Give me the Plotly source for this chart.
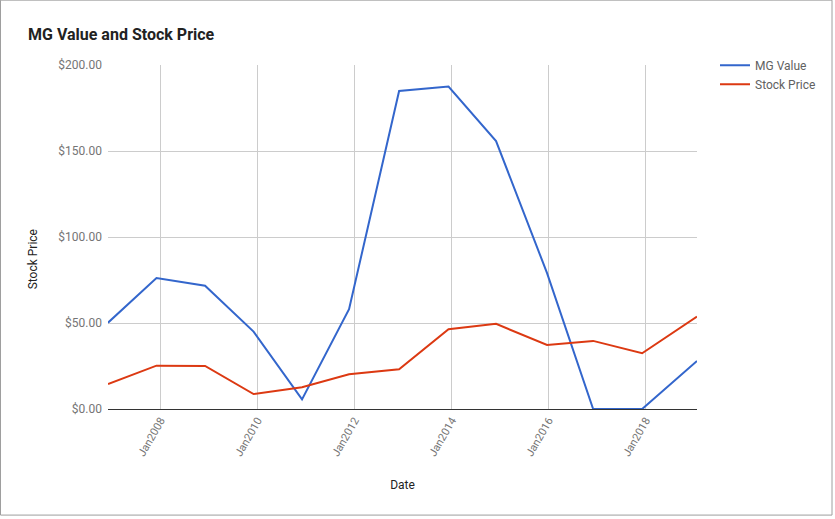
import plotly.graph_objects as go

dates = ["2006-12-01", "2007-12-01", "2008-12-01", "2009-12-01", "2010-12-01",
         "2011-11-20", "2012-12-01", "2013-12-08", "2014-12-01", "2015-12-20",
         "2016-12-01", "2017-12-05", "2019-01-22"]
mg_value = [50.2, 76.1, 71.7, 45.0, 5.6, 58.0, 184.9, 187.5, 155.8, 79.0, 0.0, 0.0, 27.9]
stock_price = [14.5, 25.2, 25.0, 8.7, 12.6, 20.2, 23.1, 46.4, 49.5, 37.2, 39.6, 32.4, 53.7]
y_ticks = [0, 50, 100, 150, 200]
y_tick_labels = ["$0.00", "$50.00", "$100.00", "$150.00", "$200.00"]

W, H = 835, 519
L, R_px, T, B_px = 108, 697, 65.3, 409
fig = go.Figure()
fig.add_trace(go.Scatter(x=dates, y=mg_value, mode="lines", name="MG Value",
                         line=dict(color="#3366cc", width=2)))
fig.add_trace(go.Scatter(x=dates, y=stock_price, mode="lines", name="Stock Price",
                         line=dict(color="#dc3912", width=2)))

pw, ph = R_px - L, B_px - T
def px_x(p):
    return (p - L) / pw
def px_y(p):
    return (B_px - p) / ph

fig.add_shape(type="rect", xref="paper", yref="paper",
              x0=px_x(0.5), x1=px_x(832), y0=px_y(515), y1=px_y(0.5),
              line=dict(color="#9e9e9e", width=1), fillcolor="rgba(0,0,0,0)", layer="below")

fig.add_annotation(text="Stock Price", xref="paper", yref="paper",
                   x=px_x(33), y=px_y(259.5), xanchor="center", yanchor="middle",
                   textangle=-90, showarrow=False,
                   font=dict(size=12, color="#222222"))

fig.update_layout(
    width=W, height=H,
    margin=dict(l=L, r=W - R_px, t=T, b=H - B_px),
    paper_bgcolor="white", plot_bgcolor="white",
    font=dict(family="Roboto, Arial, sans-serif", size=12, color="#222222"),
    title=dict(text="<b>MG Value and Stock Price</b>", x=28 / W, xref="container", xanchor="left",
               y=1 - 34 / H, yref="container", yanchor="middle", font=dict(size=16, color="#222222")),
    showlegend=True,
    legend=dict(x=px_x(715), y=px_y(51), xanchor="left", yanchor="top",
                font=dict(size=12, color="#616161"), itemwidth=30, tracegroupgap=6,
                bgcolor="rgba(0,0,0,0)"),
    hovermode=False,
    xaxis=dict(range=["2006-12-01", "2019-01-22"], type="date",
               tick0="2008-01-01", dtick="M24", tickformat="%b%Y", tickangle=-60,
               showgrid=True, gridcolor="#cccccc", gridwidth=1,
               tickfont=dict(size=11, color="#757575"), ticks="", showline=False,
               zeroline=False, ticklabelstandoff=2,
               title=dict(text="Date", font=dict(size=12, color="#222222"), standoff=22)),
    yaxis=dict(range=[0, 200], tickvals=y_ticks, ticktext=y_tick_labels,
               showgrid=True, gridcolor="#cccccc", gridwidth=1,
               zeroline=True, zerolinecolor="#333333", zerolinewidth=1,
               tickfont=dict(size=12, color="#757575"), ticks="", showline=False,
               ticklabelstandoff=5),
)
fig.write_html("out.html", config={"displayModeBar": False, "staticPlot": True},
               post_script="document.body.style.margin='0';")
